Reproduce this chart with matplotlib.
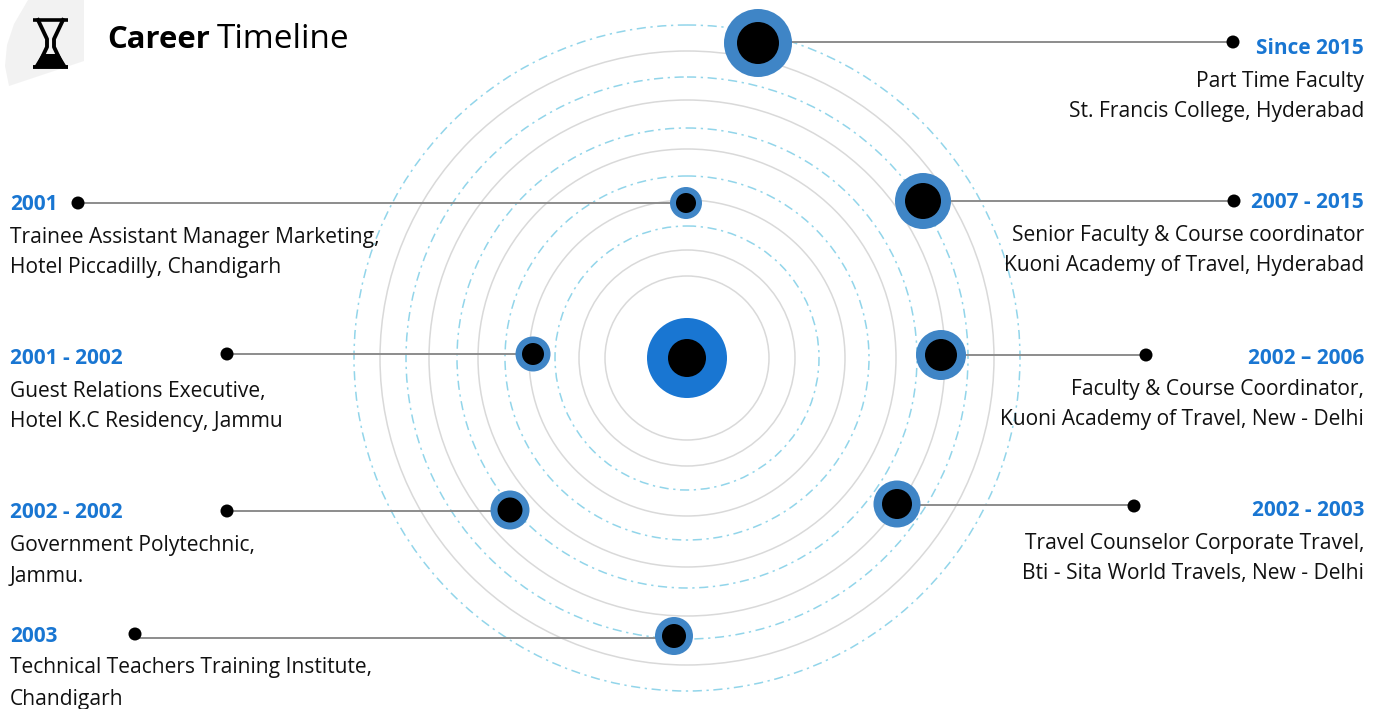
import matplotlib
matplotlib.use("Agg")
import matplotlib.pyplot as plt
from matplotlib.patches import Circle, Polygon

plt.rcParams['font.family'] = ['Open Sans', 'DejaVu Sans']

# ring radii, in pixels of the picture
grey_rings = [82, 108, 158, 209, 258, 307]
dash_rings = [132, 182, 230, 281, 333]
centre = (687, 358)

# career stops: circle x, y, outer radius, inner radius
node_x = [758, 923, 941, 897, 686, 533, 510, 674]
node_y = [43, 201, 355, 504, 203, 354, 510, 636]
node_outer = [34, 28, 25, 23.5, 16, 17.5, 19.5, 19]
node_inner = [21, 18, 16, 15, 10, 11, 12.5, 12]
# where each leader line ends
dot_x = [1233, 1234, 1146, 1134, 78, 227, 227, 135]
dot_y = [42, 201, 355, 506, 203, 354, 511, 634]
leader_y = [42, 201, 355, 505, 203, 354, 511, 638]

periods = ["Since 2015", "2007 - 2015", "2002 – 2006", "2002 - 2003",
           "2001", "2001 - 2002", "2002 - 2002", "2003"]
line1 = ["Part Time Faculty", "Senior Faculty & Course coordinator",
         "Faculty & Course Coordinator,", "Travel Counselor Corporate Travel,",
         "Trainee Assistant Manager Marketing,", "Guest Relations Executive,",
         "Government Polytechnic,", "Technical Teachers Training Institute,"]
line2 = ["St. Francis College, Hyderabad", "Kuoni Academy of Travel, Hyderabad",
         "Kuoni Academy of Travel, New - Delhi", "Bti - Sita World Travels, New - Delhi",
         "Hotel Piccadilly, Chandigarh", "Hotel K.C Residency, Jammu",
         "Jammu.", "Chandigarh"]
period_y = [49, 203, 358, 511, 205, 359, 513, 636]
line1_y = [81, 235, 390, 543, 237, 391, 545, 668]
line2_y = [111, 265, 420, 574, 268, 422, 576, 699]

BLUE = "#1976D2"
NODE = "#3F85C6"

fig = plt.figure(figsize=(13.79, 7.09), dpi=100)
ax = fig.add_axes([0, 0, 1, 1])
ax.set_xlim(0, 1379)
ax.set_ylim(709, 0)
ax.axis("off")

# corner shape behind the hourglass
ax.add_patch(Polygon([(84, 0), (84, 61), (9, 86), (5, 66), (7, 45), (14, 24), (28, 0)],
                     fc="#F2F2F2", ec="none", zorder=0))
ax.plot([33, 68], [20, 20], color="black", lw=2.6, solid_capstyle="butt")
ax.plot([33, 68], [66.5, 66.5], color="black", lw=2.8, solid_capstyle="butt")
ax.plot([38, 47, 47, 38], [20, 39, 47, 66], color="black", lw=2.8)
ax.plot([63, 54, 54, 63], [20, 39, 47, 66], color="black", lw=2.8)
ax.add_patch(Polygon([(42, 54), (59, 54), (67, 67), (34, 67)], fc="black", ec="none"))

ax.text(107, 40, "Career", fontsize=22.4, fontweight="bold", va="center", color="black")
ax.text(217, 40, "Timeline", fontsize=24, va="center", color="black")

for r in grey_rings:
    ax.add_patch(Circle(centre, r, fc="none", ec="#D9D9D9", lw=1.1, zorder=1))
for r in dash_rings:
    ax.add_patch(Circle(centre, r, fc="none", ec="#92D5EA", lw=1.1,
                        ls=(0, (6, 3, 1.5, 3)), zorder=1))

ax.add_patch(Circle(centre, 40, fc=BLUE, ec="none", zorder=3))
ax.add_patch(Circle(centre, 19, fc="black", ec="none", zorder=4))

for i in range(len(node_x)):
    ax.plot([node_x[i], dot_x[i]], [leader_y[i], leader_y[i]], color="#8C8C8C", lw=1.4, zorder=2)
    ax.add_patch(Circle((dot_x[i], dot_y[i]), 6.5, fc="black", ec="none", zorder=3))
    ax.add_patch(Circle((node_x[i], node_y[i]), node_outer[i], fc=NODE, ec="none", zorder=3))
    ax.add_patch(Circle((node_x[i], node_y[i]), node_inner[i], fc="black", ec="none", zorder=4))
    if i < 4:
        tx, ha = 1364, "right"
    else:
        tx, ha = 10, "left"
    ax.text(tx, period_y[i], periods[i], color=BLUE, fontsize=15, fontweight="bold", ha=ha, va="center")
    ax.text(tx, line1_y[i], line1[i], color="#111111", fontsize=15.15, ha=ha, va="center")
    ax.text(tx, line2_y[i], line2[i], color="#111111", fontsize=15.15, ha=ha, va="center")

fig.savefig("out.png", dpi=100)
